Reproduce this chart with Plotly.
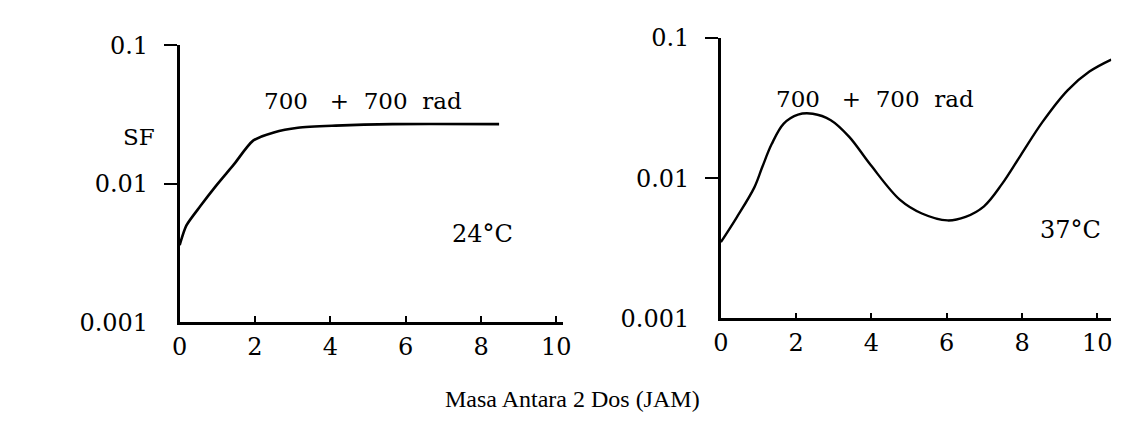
import plotly.graph_objects as go

# Data (x = hours between the two doses, y = surviving fraction)
x_24 = [0.0, 0.18, 0.55, 0.97, 1.44, 1.95, 2.5, 3.14, 4.14, 5.65, 8.48]
sf_24 = [0.0036, 0.0050, 0.0069, 0.0097, 0.0138, 0.0205, 0.0235, 0.0254, 0.0263, 0.0270, 0.0270]

x_37 = [0.0, 0.41, 0.89, 1.1, 1.35, 1.67, 2.05, 2.44, 2.92, 3.41, 3.98, 4.76, 5.34, 6.02,
        6.5, 6.99, 7.47, 7.96, 8.54, 9.21, 9.79, 10.37]
sf_37 = [0.0035, 0.0052, 0.0086, 0.0120, 0.0175, 0.0245, 0.0284, 0.0288, 0.0259, 0.0197,
         0.0124, 0.0070, 0.0056, 0.0050, 0.0053, 0.0063, 0.0091, 0.0145, 0.0251, 0.0423,
         0.0575, 0.070]

x_ticks = [0, 2, 4, 6, 8, 10]
y_ticks = [0.001, 0.01, 0.1]
y_tick_text = ["0.001", "0.01", "0.1"]

TICKFONT = "DejaVu Serif"
TITLEFONT = "Liberation Serif"
W, H = 1129, 432

fig = go.Figure()
fig.add_trace(go.Scatter(x=x_24, y=sf_24, mode="lines", xaxis="x", yaxis="y",
                         line=dict(color="black", width=2.6, shape="spline", smoothing=0.7),
                         showlegend=False, hoverinfo="skip"))
fig.add_trace(go.Scatter(x=x_37, y=sf_37, mode="lines", xaxis="x2", yaxis="y2",
                         line=dict(color="black", width=2.4, shape="spline", smoothing=1.0),
                         showlegend=False, hoverinfo="skip", cliponaxis=False))

def xaxis(dom, rng, anchor):
    return dict(domain=dom, range=rng, anchor=anchor, showline=True, linecolor="black",
                linewidth=2.5, showgrid=False, zeroline=False, tickmode="array",
                tickvals=x_ticks, ticktext=[str(v) for v in x_ticks], ticks="inside",
                ticklen=6, tickwidth=2, tickcolor="black", ticklabelstandoff=1,
                tickfont=dict(family=TICKFONT, size=24, color="black"))

def yaxis(dom, anchor):
    return dict(domain=dom, type="log", range=[-3, -1], anchor=anchor, showline=True,
                linecolor="black", linewidth=2.5, showgrid=False, zeroline=False,
                tickmode="array", tickvals=y_ticks, ticktext=y_tick_text, ticks="",
                ticklabelstandoff=24,
                minor=dict(tickmode="array", tickvals=[0.01, 0.1], ticks="outside",
                           ticklen=13, tickwidth=2, tickcolor="black", showgrid=False),
                tickfont=dict(family=TICKFONT, size=24, color="black"))

fig.update_layout(
    width=W, height=H, margin=dict(l=0, r=0, t=0, b=0),
    paper_bgcolor="white", plot_bgcolor="white",
    xaxis=xaxis([166 / W, 555 / W], [0, 10.18], "y"),
    yaxis=yaxis([1 - 321 / H, 1 - 25 / H], "x"),
    xaxis2=xaxis([715 / W, 1111 / W], [0, 10.37], "y2"),
    yaxis2=yaxis([1 - 317 / H, 1 - 17 / H], "x2"),
)

NB = "\u00a0"
label = "700" + NB * 3 + "+" + NB * 2 + "700" + NB * 2 + "rad"
annots = [
    ("SF", 125, 123, 23, TICKFONT),
    (label, 352, 85, 23, TICKFONT),
    ("24°C", 473, 227, 24, TICKFONT),
    (label, 871, 82, 23, TICKFONT),
    ("37°C", 1070, 222, 24, TICKFONT),
    ("Masa Antara 2 Dos (JAM)", 565, 403, 24, TITLEFONT),
]
for txt, px, py, sz, fam in annots:
    fig.add_annotation(text=txt, x=px / W, y=1 - py / H, xref="paper", yref="paper",
                       showarrow=False, xanchor="center", yanchor="middle",
                       font=dict(family=fam, size=sz, color="black"))

fig.write_html("out.html")
